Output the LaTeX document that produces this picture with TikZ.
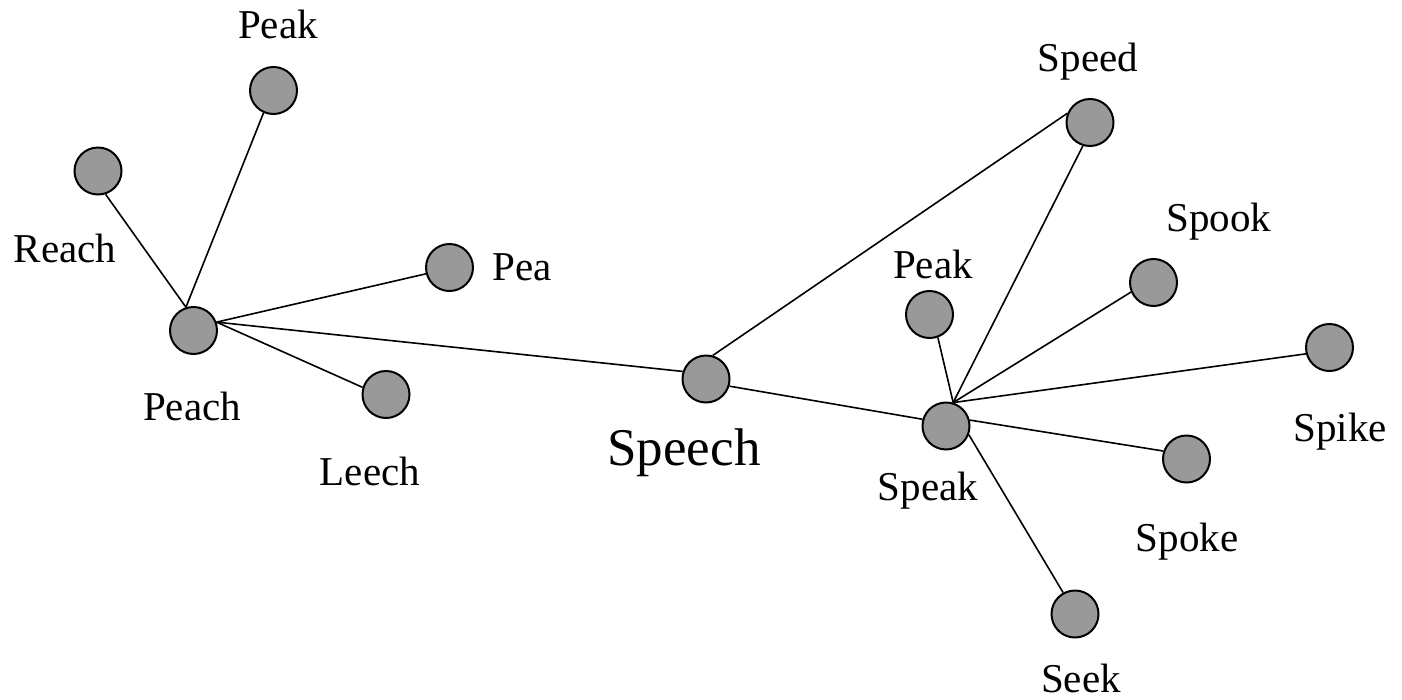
\documentclass[tikz,border=0pt]{standalone}
\usepackage{fontspec}
\setmainfont{Liberation Serif}
\tikzset{
  vert/.style={circle, draw=black, line width=2pt, fill=vgray, minimum size=47pt, inner sep=0pt},
  lbl/.style={anchor=base, inner sep=0pt, font=\fontsize{41}{41}\selectfont},
  biglbl/.style={anchor=base, inner sep=0pt, font=\fontsize{53}{53}\selectfont},
  edge/.style={line width=1.6pt, draw=black}
}
\definecolor{vgray}{RGB}{153,153,153}
\begin{document}
\begin{tikzpicture}[x=1pt, y=-1pt]
\useasboundingbox[fill=white] (0,0) rectangle (1402,699);

% vertices
\node[vert] (peakA)  at (273.5,90.5)  {};
\node[vert] (reach)  at (98,171)      {};
\node[vert] (peach)  at (193.5,330.5) {};
\node[vert] (pea)    at (449.5,267.5) {};
\node[vert] (leech)  at (386,394.5)   {};
\node[vert] (speech) at (706,379)     {};
\node[vert] (speak)  at (946,426)     {};
\node[vert] (speed)  at (1090,122.5)  {};
\node[vert] (spook)  at (1153.5,282.5){};
\node[vert] (peakB)  at (929.5,314.5) {};
\node[vert] (spike)  at (1329.5,347.5){};
\node[vert] (spoke)  at (1186.5,459)  {};
\node[vert] (seek)   at (1075,614)    {};

% labels
\node[lbl] (tPeakA)  at (278,38)   {Peak};
\node[lbl] (tReach)  at (65,262)   {Reach};
\node[lbl] (tPea)    at (522,280)  {Pea};
\node[lbl] (tPeach)  at (192,420)  {Peach};
\node[lbl] (tLeech)  at (370,485)  {Leech};
\node[biglbl] (tSpeech) at (684,465) {Speech};
\node[lbl] (tSpeak)  at (928,500)  {Speak};
\node[lbl] (tSpeed)  at (1088,71)  {Speed};
\node[lbl] (tSpook)  at (1219,231) {Spook};
\node[lbl] (tPeakB)  at (933,278)  {Peak};
\node[lbl] (tSpike)  at (1340,441) {Spike};
\node[lbl] (tSpoke)  at (1187,551) {Spoke};
\node[lbl] (tSeek)   at (1081,692) {Seek};

% connectors
\draw[edge] (peach.108) -- (reach.-72);
\draw[edge] (peach.108) -- (peakA.246);
\draw[edge] (peach.20) -- (pea.195);
\draw[edge] (peach.20) -- (leech.163);
\draw[edge] (peach.20) -- (speech.162);
\draw[edge] (speech.74) -- (speed.158);
\draw[edge] (speech.-17) -- (speak.164);
\draw[edge] (speak.73) -- (peakB.-70);
\draw[edge] (speak.73) -- (speed.253);
\draw[edge] (speak.73) -- (spook.203);
\draw[edge] (speak.73) -- (spike.195);
\draw[edge] (speak.14) -- (spoke.161);
\draw[edge] (speak.-21) -- (seek.119);
\end{tikzpicture}
\end{document}
